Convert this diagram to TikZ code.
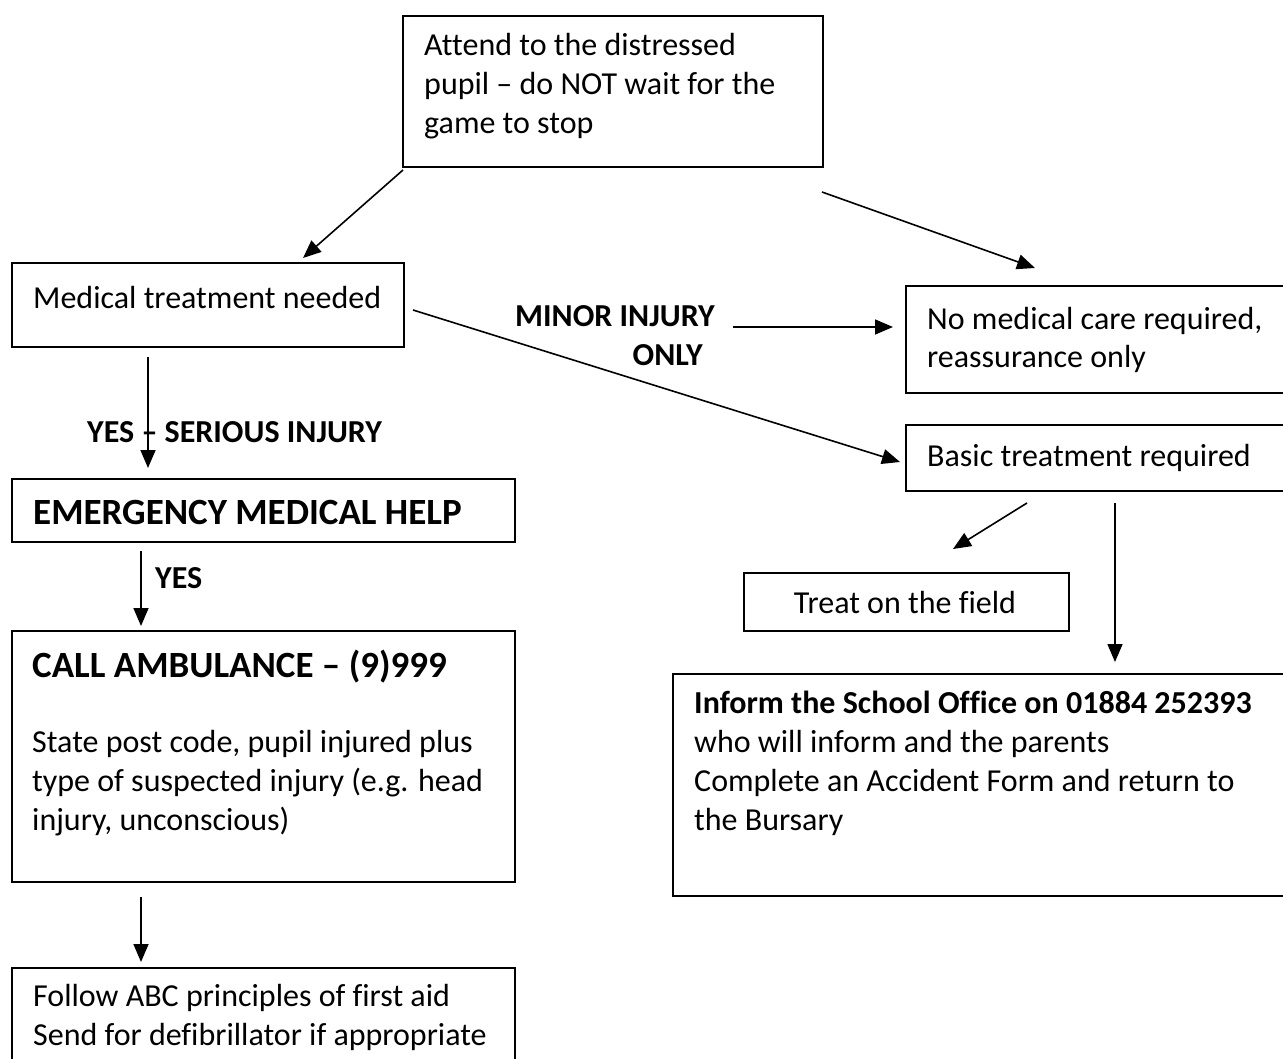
\documentclass[tikz,border=0pt]{standalone}
\usepackage{fontspec}
\setmainfont[Ligatures={NoCommon}]{Carlito}
\usetikzlibrary{arrows.meta}
\tikzset{
  box/.style={draw=black, line width=2pt, rectangle, inner sep=0pt, anchor=north west},
  txt/.style={inner sep=0pt, anchor=base west, font=\fontsize{32}{39}\selectfont, align=left},
  lbl/.style={inner sep=0pt, font=\fontsize{32}{39}\selectfont\bfseries},
  head/.style={inner sep=0pt, anchor=base west, font=\fontsize{37}{45}\selectfont\bfseries},
  arr/.style={draw=black, line width=1.6pt, -{Triangle[length=18pt,width=15pt]}},
}
\begin{document}
\begin{tikzpicture}[x=1pt,y=-1pt]
\useasboundingbox (0,0) rectangle (1283,1059);
\clip (0,0) rectangle (1283,1059);
\fill[white] (0,0) rectangle (1283,1059);

% boxes
\node[box, minimum width=420pt, minimum height=151pt] (attend) at (402,15) {};
\node[box, minimum width=392pt, minimum height=84pt] (medical) at (11,262) {};
\node[box, minimum width=400pt, minimum height=107pt] (nocare) at (905,285) {};
\node[box, minimum width=400pt, minimum height=66pt] (basic) at (905,424) {};
\node[box, minimum width=503pt, minimum height=63pt] (emerg) at (11,478) {};
\node[box, minimum width=325pt, minimum height=58pt] (field) at (743,572) {};
\node[box, minimum width=503pt, minimum height=251pt] (call) at (11,630) {};
\node[box, minimum width=640pt, minimum height=222pt] (inform) at (672,673) {};
\node[box, minimum width=503pt, minimum height=140pt] (abc) at (11,967) {};

% texts (base anchor = baseline of the last line)
\node[txt] (tattend) at (424,134) {Attend to the distressed\\pupil – do NOT wait for the\\game to stop};
\node[txt] (tmedical) at (33,309) {Medical treatment needed};
\node[txt] (tnocare) at (927,368) {No medical care required,\\reassurance only};
\node[txt] (tbasic) at (927,466) {Basic treatment required};
\node[head] (temerg) at (33,524) {EMERGENCY MEDICAL HELP};
\node[txt, anchor=base] (tfield) at (905,613) {Treat on the field};
\node[head] (tcall) at (32,677) {CALL AMBULANCE – (9)999};
\node[txt] (tcall2) at (32,830) {State post code, pupil injured plus\\type of suspected injury (e.g. head\\injury, unconscious)};
\node[txt] (tinform) at (694,830) {\textbf{Inform the School Office on 01884 252393}\\who will inform and the parents\\Complete an Accident Form and return to\\the Bursary};
\node[txt] (tabc) at (33,1045) {Follow ABC principles of first aid\\Send for defibrillator if appropriate};

% connector end points
\coordinate (a1s) at (403,170); \coordinate (a1e) at (303,258);
\coordinate (a2s) at (822,192); \coordinate (a2e) at (1035,268);
\coordinate (a3s) at (413,310); \coordinate (a3e) at (900,462);
\coordinate (a4s) at (148,357); \coordinate (a4e) at (148,468);
\coordinate (a5s) at (733,327); \coordinate (a5e) at (893,327);
\coordinate (a6s) at (141,551); \coordinate (a6e) at (141,626);
\coordinate (a7s) at (1027,503); \coordinate (a7e) at (953,549);
\coordinate (a8s) at (1115,503); \coordinate (a8e) at (1115,662);
\coordinate (a9s) at (141,897); \coordinate (a9e) at (141,962);

\draw[arr] (a1s) -- (a1e);
\draw[arr] (a2s) -- (a2e);
\draw[arr] (a3s) -- (a3e);
\draw[arr] (a4s) -- (a4e);
\draw[arr] (a5s) -- (a5e);
\draw[arr] (a6s) -- (a6e);
\draw[arr] (a7s) -- (a7e);
\draw[arr] (a8s) -- (a8e);
\draw[arr] (a9s) -- (a9e);

% labels
\node[lbl, anchor=base west] (lserious) at (87,442) {YES – SERIOUS INJURY};
\node[lbl, anchor=base east, align=right] (lminor) at (715,366) {MINOR INJURY\\ONLY\hspace*{12pt}};
\node[lbl, anchor=base west] (lyes2) at (155,588) {YES};
\end{tikzpicture}
\end{document}
